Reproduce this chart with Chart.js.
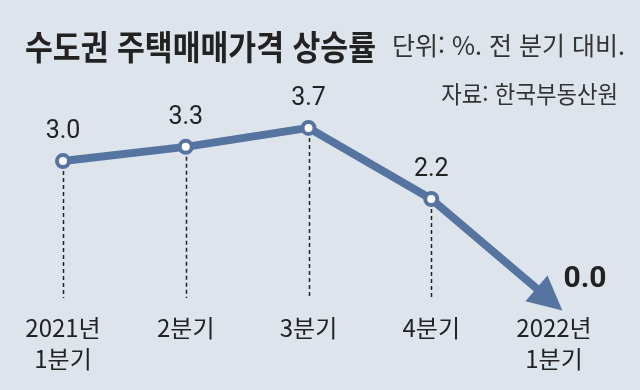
<!DOCTYPE html>
<html lang="ko">
<head>
<meta charset="utf-8">
<title>수도권 주택매매가격 상승률</title>
<script src="https://cdn.jsdelivr.net/npm/chart.js@4/dist/chart.umd.min.js"></script>
<style>
  html, body { margin: 0; padding: 0; background: #dee4ec; }
  #wrap { position: relative; width: 640px; height: 390px; overflow: hidden; }
  #wrap canvas { position: absolute; left: 0; top: 0; }
  .txt { position: absolute; white-space: nowrap; font-family: 'Noto Sans CJK KR', sans-serif; color: #222; line-height: 1; }
  #title { left: 25px; top: 29px; font-size: 34px; font-weight: 700; transform: scaleX(0.89); transform-origin: left top; }
  #unit { left: 392px; top: 32px; font-size: 25px; color: #333; }
  #source { right: 22px; top: 81px; font-size: 24px; color: #333; transform: scaleX(0.93); transform-origin: right top; }
</style>
</head>
<body>
<div id="wrap">
  <canvas id="priceChart"></canvas>
  <div class="txt" id="title">수도권 주택매매가격 상승률</div>
  <div class="txt" id="unit">단위: %. 전 분기 대비.</div>
  <div class="txt" id="source">자료: 한국부동산원</div>
</div>
<script>
// 분기별 수도권 주택매매가격 상승률 (전 분기 대비, %)
const quarters = [['2021년', '1분기'], '2분기', '3분기', '4분기', ['2022년', '1분기']];
const growthRates = [3.0, 3.3, 3.7, 2.2, 0.0];

const LINE_COLOR = '#5574a0';
const TEXT_COLOR = '#222';

// 점선 (각 점에서 축 위까지)
const dropLines = {
  id: 'dropLines',
  beforeDatasetsDraw(chart) {
    const { ctx } = chart;
    const pts = chart.getDatasetMeta(0).data;
    const bottom = chart.chartArea.bottom - 10;
    ctx.save();
    ctx.strokeStyle = '#222';
    ctx.lineWidth = 1.5;
    ctx.setLineDash([4, 3]);
    pts.slice(0, -1).forEach(p => {
      ctx.beginPath();
      ctx.moveTo(Math.round(p.x) + 0.5, p.y + 10);
      ctx.lineTo(Math.round(p.x) + 0.5, bottom);
      ctx.stroke();
    });
    ctx.restore();
  }
};

// 마지막 구간 화살표 + 값 라벨
const arrowAndLabels = {
  id: 'arrowAndLabels',
  afterDatasetsDraw(chart) {
    const { ctx } = chart;
    const pts = chart.getDatasetMeta(0).data;
    const a = pts[pts.length - 2], b = pts[pts.length - 1];
    const dx = b.x - a.x, dy = b.y - a.y;
    const len = Math.hypot(dx, dy);
    const ux = dx / len, uy = dy / len;
    const tipX = b.x + ux * 11, tipY = b.y + uy * 11;
    const baseX = tipX - ux * 34, baseY = tipY - uy * 34;
    ctx.save();
    ctx.fillStyle = LINE_COLOR;
    ctx.beginPath();
    ctx.moveTo(tipX, tipY);
    ctx.lineTo(baseX - uy * 17, baseY + ux * 17);
    ctx.lineTo(baseX + uy * 17, baseY - ux * 17);
    ctx.closePath();
    ctx.fill();

    ctx.fillStyle = TEXT_COLOR;
    ctx.textAlign = 'center';
    ctx.textBaseline = 'middle';
    pts.forEach((p, i) => {
      const label = growthRates[i].toFixed(1);
      if (i === pts.length - 1) {
        ctx.font = 'bold 30px Roboto, "Liberation Sans", sans-serif';
        ctx.fillText(label, p.x + 31, p.y - 24);
      } else {
        ctx.font = '25px Roboto, "Liberation Sans", sans-serif';
        ctx.fillText(label, p.x, p.y - 29);
      }
    });
    ctx.restore();
  }
};

new Chart(document.getElementById('priceChart').getContext('2d'), {
  type: 'line',
  data: {
    labels: quarters,
    datasets: [{
      data: growthRates,
      borderColor: LINE_COLOR,
      borderWidth: 8,
      borderCapStyle: 'butt',
      borderJoinStyle: 'round',
      tension: 0,
      pointRadius: [6, 6, 6, 6, 0],
      pointHoverRadius: [6, 6, 6, 6, 0],
      pointBorderWidth: 4,
      pointBackgroundColor: '#fff',
      pointBorderColor: LINE_COLOR,
      clip: false
    }]
  },
  options: {
    responsive: true,
    maintainAspectRatio: false,
    animation: false,
    layout: { padding: { left: 63, right: 86, top: 90, bottom: 0 } },
    plugins: {
      legend: { display: false },
      tooltip: { enabled: false }
    },
    scales: {
      x: {
        offset: false,
        grid: { display: false, drawTicks: false },
        border: { display: false },
        ticks: {
          color: TEXT_COLOR,
          padding: 4,
          maxRotation: 0,
          autoSkip: false,
          font: { family: '"Noto Sans CJK KR", sans-serif', size: 24, lineHeight: 1.3 }
        },
        afterFit(axis) { axis.height = 82; }
      },
      y: {
        display: false,
        min: -0.1,
        max: 4.5
      }
    }
  },
  plugins: [dropLines, arrowAndLabels]
});
</script>
</body>
</html>
